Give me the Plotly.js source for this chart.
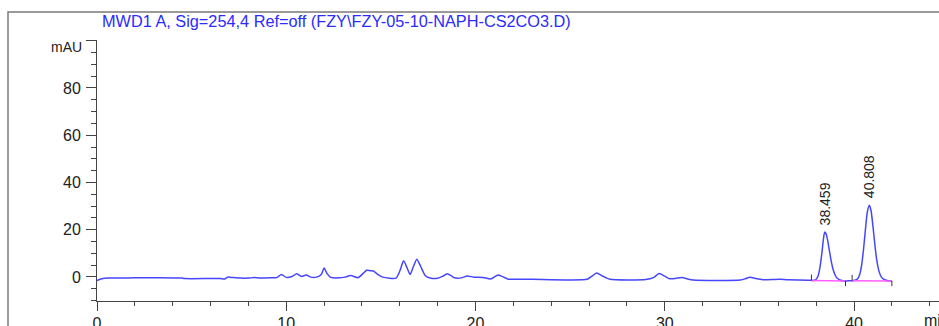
<!DOCTYPE html>
<html>
<head>
<meta charset="utf-8">
<script src="https://cdn.plot.ly/plotly-3.0.1.min.js"></script>
<style>html,body{margin:0;padding:0;background:#fff;}#chart{width:939px;height:326px;}</style>
</head>
<body>
<div id="chart"></div>
<script>
// Retention time (min) and signal (mAU)
const timeMin = [0,0.1,0.3,0.6,2.0,2.3,4.5,4.6,6.5,6.75,6.9,7.2,7.6,8.0,8.3,8.6,9.2,9.5,9.75,10.0,10.3,10.55,10.8,11.05,11.3,11.6,11.85,12.0,12.15,12.35,12.8,13.1,13.4,13.8,14.1,14.25,14.45,14.6,14.85,15.1,15.8,16.0,16.2,16.4,16.55,16.7,16.9,17.1,17.35,17.6,18.0,18.25,18.5,18.75,18.9,19.3,19.55,19.9,20.4,20.8,21.2,21.7,23.0,25.9,26.15,26.4,26.7,27.1,29.0,29.4,29.7,30.0,30.26,30.6,30.9,31.5,34.0,34.25,34.5,34.8,35.2,36.05,36.5,37.6,37.8,37.9,38.0,38.1,38.2,38.3,38.36,38.42,38.46,38.52,38.6,38.7,38.8,38.9,39.0,39.1,39.25,39.4,39.6,39.8,39.9,40.1,40.2,40.3,40.4,40.5,40.6,40.7,40.81,40.9,41.0,41.1,41.2,41.3,41.4,41.5,41.65,41.8,42.0];
const signalMAU = [-1.6,-1.2,-0.7,-0.5,-0.4,-0.35,-0.5,-0.7,-0.7,-0.9,-0.1,-0.3,-0.5,-0.5,-0.3,-0.5,-0.4,-0.3,1.0,-0.2,0.2,1.3,0.2,0.8,-0.1,-0.1,1.0,3.8,1.5,-0.2,-0.4,-0.1,0.6,-0.3,1.8,2.8,2.6,2.5,1.0,-0.1,-0.5,2.5,6.8,3.5,1.0,4.0,7.5,4.5,0.5,-0.5,-0.6,0.2,1.3,0.3,-0.4,-0.3,0.4,-0.1,-0.2,-0.85,0.85,-0.85,-1.0,-1.0,0.3,1.7,0.4,-1.0,-1.1,-0.3,1.4,0.3,-0.8,-0.6,-0.3,-1.3,-1.3,-0.8,-0.1,-0.7,-1.2,-1.0,-1.2,-1.4,-1.5,-1.4,-1.0,0.4,4.0,10.0,14.5,18.0,19.0,18.3,15.8,11.0,6.5,3.0,0.8,-0.5,-1.3,-1.6,-1.7,-1.6,-1.6,-1.3,-0.7,1.0,4.9,11.5,19.8,27.3,30.3,28.0,21.5,13.8,7.2,3.0,0.6,-0.6,-1.3,-1.6,-1.7];

// Integrated peaks
const peakRT = [38.459, 40.808];
const peakHeight = [19.0, 30.3];
const peakLabels = ['38.459', '40.808'];
const intStart = [37.75, 39.9];
const intEnd = [39.55, 42.0];
const baseStart = [-1.5, -1.65];
const baseEnd = [-1.7, -1.7];

const xTicks = [0, 10, 20, 30, 40];
const yTicks = [0, 20, 40, 60, 80, 100];
const yTickText = ['0', '20', '40', '60', '80', ''];

const titleText = 'MWD1 A, Sig=254,4 Ref=off (FZY\\FZY-05-10-NAPH-CS2CO3.D)';

const FONT = 'Liberation Sans, Arial, sans-serif';

const traces = [{
  x: timeMin, y: signalMAU, type: 'scatter', mode: 'lines',
  line: {color: '#4646ff', width: 1.5, shape: 'spline', smoothing: 0.6},
  hoverinfo: 'skip'
}];
intStart.forEach((s, i) => {
  traces.push({
    x: [s, intEnd[i]], y: [baseStart[i], baseEnd[i]], type: 'scatter', mode: 'lines',
    line: {color: '#ff5cff', width: 1.5}, hoverinfo: 'skip'
  });
});

const shapes = [{
  type: 'rect', xref: 'paper', yref: 'paper',
  x0: -0.1057, x1: 1.2, y0: -0.5, y1: 1.1073,
  line: {color: '#7a7a7a', width: 1.5}, fillcolor: 'rgba(0,0,0,0)', layer: 'below'
}];
intStart.forEach((s, i) => {
  shapes.push({type: 'line', xref: 'x', yref: 'y', x0: s, x1: s, y0: baseStart[i], y1: baseStart[i] + 2.5, line: {color: '#333', width: 1}});
  shapes.push({type: 'line', xref: 'x', yref: 'y', x0: intEnd[i], x1: intEnd[i], y0: baseEnd[i], y1: baseEnd[i] - 2.2, line: {color: '#333', width: 1}});
});

const annotations = peakRT.map((rt, i) => ({
  x: rt, y: peakHeight[i], xref: 'x', yref: 'y', text: peakLabels[i],
  textangle: -90, showarrow: false, xanchor: 'center', yanchor: 'bottom', yshift: 5,
  font: {family: FONT, size: 14, color: '#222'}
}));
annotations.push({
  x: 0, y: 97.3, xref: 'paper', yref: 'y', text: 'mAU', showarrow: false,
  xanchor: 'right', yanchor: 'middle', xshift: -13,
  font: {family: FONT, size: 14, color: '#222'}
});
annotations.push({
  x: 0.98, y: -0.075, xref: 'paper', yref: 'paper', text: 'min', showarrow: false,
  xanchor: 'left', yanchor: 'middle',
  font: {family: FONT, size: 16, color: '#222'}
});

const layout = {
  width: 939, height: 326,
  margin: {l: 97, r: 0, t: 40, b: 25},
  paper_bgcolor: '#fff', plot_bgcolor: '#fff',
  showlegend: false,
  title: {
    text: titleText, xref: 'paper', x: 0.006, xanchor: 'left',
    yref: 'container', y: 0.935, yanchor: 'middle',
    font: {family: FONT, size: 16.3, color: '#2b2bff'}
  },
  xaxis: {
    range: [0, 44.49], showgrid: false, zeroline: false,
    showline: true, linecolor: '#444', linewidth: 1,
    tickmode: 'array', tickvals: xTicks, ticks: 'outside', ticklen: 9, tickcolor: '#444',
    tickfont: {family: FONT, size: 16, color: '#222'}, ticklabelstandoff: -1,
    minor: {tickmode: 'linear', tick0: 0, dtick: 2, ticks: 'outside', ticklen: 4, tickcolor: '#444', showgrid: false}
  },
  yaxis: {
    range: [-10.2, 100.3], showgrid: false, zeroline: false,
    showline: true, linecolor: '#444', linewidth: 1,
    tickmode: 'array', tickvals: yTicks, ticktext: yTickText,
    ticks: 'outside', ticklen: 10, tickcolor: '#444', ticklabelstandoff: 2,
    tickfont: {family: FONT, size: 16, color: '#222'},
    minor: {tickmode: 'linear', tick0: 0, dtick: 5, ticks: 'outside', ticklen: 5, tickcolor: '#444', showgrid: false}
  },
  shapes: shapes,
  annotations: annotations
};

Plotly.newPlot('chart', traces, layout, {displayModeBar: false, staticPlot: true});
</script>
</body>
</html>
